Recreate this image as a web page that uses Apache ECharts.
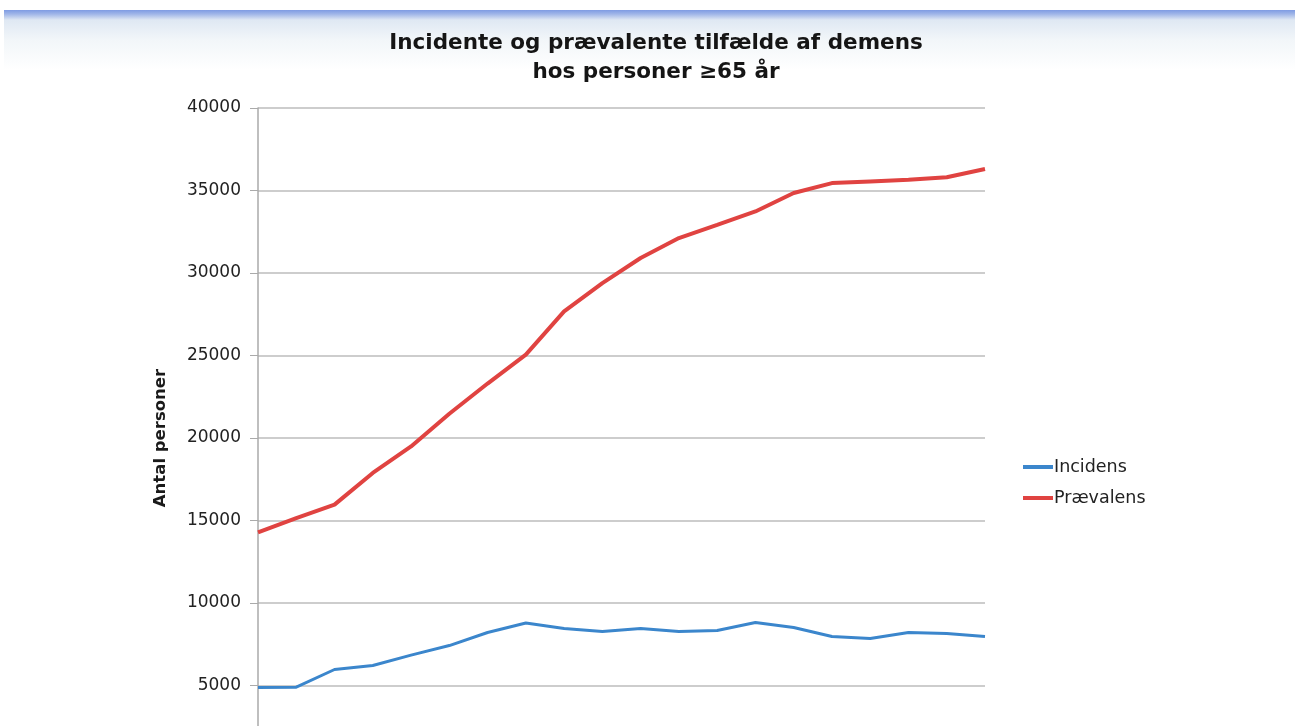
<!DOCTYPE html>
<html>
<head>
<meta charset="utf-8">
<script src="https://cdn.jsdelivr.net/npm/echarts@6/dist/echarts.min.js"></script>
<style>
  html, body { margin: 0; padding: 0; width: 1295px; height: 726px; overflow: hidden; background: #fff; }
  #band { position: absolute; left: 4px; right: 0; top: 10px; height: 60px;
          background: linear-gradient(to bottom, #7e9be3 0px, #9fb5e8 4px, #dfe8f3 10px, #f2f6f9 30px, #ffffff 60px); }
  #main { position: absolute; left: 0; top: 0; width: 1295px; height: 800px; }
</style>
</head>
<body>
<div id="band"></div>
<div id="main"></div>
<script>
// 20 år, x-etiketter ligger under udsnittet
var years = ['1','2','3','4','5','6','7','8','9','10','11','12','13','14','15','16','17','18','19','20'];
var incidens = [4880, 4900, 5970, 6210, 6840, 7420, 8210, 8790, 8450, 8270, 8450, 8270, 8330, 8820, 8520, 7970, 7850, 8210, 8150, 7970];
var praevalens = [14280, 15150, 15960, 17880, 19490, 21470, 23300, 25050, 27670, 29390, 30910, 32120, 32920, 33730, 34850, 35450, 35550, 35650, 35800, 36300];
var yTicks = [0, 5000, 10000, 15000, 20000, 25000, 30000, 35000, 40000];

var font = 'DejaVu Sans, Liberation Sans, sans-serif';
var chart = echarts.init(document.getElementById('main'));
var option = {
    backgroundColor: 'transparent',
    animation: false,
    title: {
        text: 'Incidente og prævalente tilfælde af demens\nhos personer ≥65 år',
        left: 651,
        textAlign: 'center',
        top: 24,
        textStyle: {
            fontFamily: font,
            fontSize: 21.5,
            fontWeight: 'bold',
            color: '#151515',
            lineHeight: 29
        }
    },
    legend: {
        orient: 'vertical',
        left: 1018,
        top: 453,
        itemWidth: 30,
        itemHeight: 4,
        itemGap: 13,
        icon: 'rect',
        data: ['Incidens', 'Prævalens'],
        textStyle: {
            fontFamily: font,
            fontSize: 17.5,
            color: '#222',
            padding: [0, 0, 0, -4]
        }
    },
    grid: {
        left: 258,
        top: 108,
        width: 727,
        height: 660,
        containLabel: false
    },
    xAxis: {
        type: 'category',
        data: years,
        boundaryGap: false,
        axisLine: { show: true, lineStyle: { color: '#999' } },
        axisTick: { show: false },
        axisLabel: { show: false }
    },
    yAxis: {
        type: 'value',
        min: yTicks[0],
        max: yTicks[yTicks.length - 1],
        interval: 5000,
        name: 'Antal personer',
        nameLocation: 'middle',
        nameGap: 89,
        nameRotate: 90,
        nameTextStyle: {
            fontFamily: font,
            fontSize: 16.5,
            fontWeight: 'bold',
            color: '#1a1a1a'
        },
        axisLine: { show: true, lineStyle: { color: '#aaa', width: 1.5 } },
        axisTick: { show: true, length: 8, lineStyle: { color: '#aaa' } },
        axisLabel: {
            margin: 17,
            fontFamily: font,
            fontSize: 17,
            color: '#222',
            formatter: function (v) { return String(v); }
        },
        splitLine: { lineStyle: { color: '#bdbdbd', width: 1.5 } }
    },
    series: [
        {
            name: 'Incidens',
            type: 'line',
            data: incidens,
            symbol: 'none',
            color: '#3b86cc',
            lineStyle: { width: 3, color: '#3b86cc' }
        },
        {
            name: 'Prævalens',
            type: 'line',
            data: praevalens,
            symbol: 'none',
            color: '#e04341',
            lineStyle: { width: 4, color: '#e04341' }
        }
    ]
};
chart.setOption(option);
</script>
</body>
</html>
